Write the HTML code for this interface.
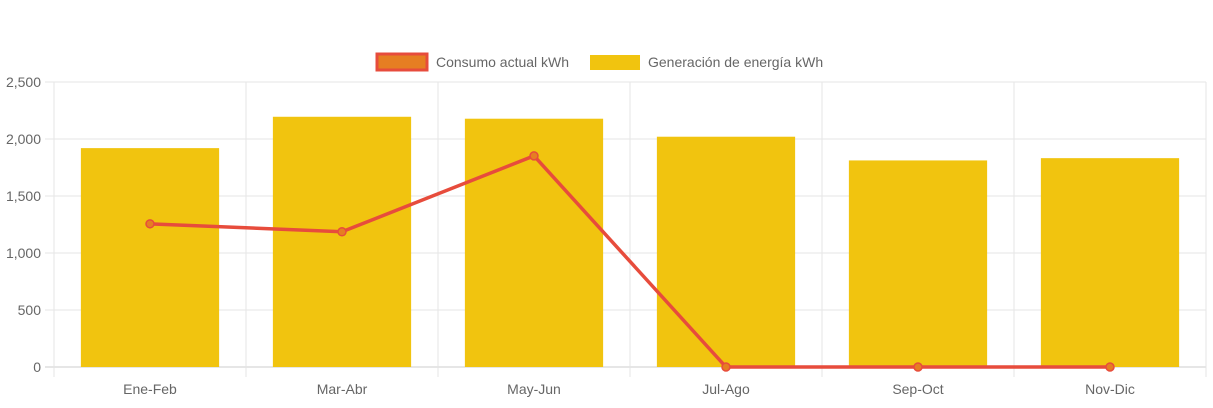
<!DOCTYPE html>
<html><head><meta charset="utf-8"><style>
body{margin:0;background:#fff;}
svg text{font-family:"Liberation Sans",Arial,sans-serif;fill:#666;font-size:14px;}
</style></head><body>
<svg id="c" width="1213" height="403"></svg>
<script>
const categories=["Ene-Feb","Mar-Abr","May-Jun","Jul-Ago","Sep-Oct","Nov-Dic"];
const generacion=[1920,2195,2178,2020,1812,1832];
const consumo=[1256,1186,1852,0,0,0];
const yTicks=[0,500,1000,1500,2000,2500];
const yTickLabels=["0","500","1,000","1,500","2,000","2,500"];
const L=54,R=1206,T=82,B=367,YMAX=2500;
const svg=document.getElementById('c');
const NS='http://www.w3.org/2000/svg';
const cw=(R-L)/categories.length;
const x=i=>L+cw*(i+0.5);
const y=v=>B-(v/YMAX)*(B-T);
function mk(t,a){const e=document.createElementNS(NS,t);for(const k in a)e.setAttribute(k,a[k]);svg.appendChild(e);return e;}
// grid
yTicks.forEach((v,i)=>{
 const g=mk('line',{x1:45,x2:R,y1:y(v),y2:y(v),stroke:i==0?'#ccc':'#e5e5e5','stroke-width':1});
 
 
 const t=mk('text',{x:41,y:y(v)+5,'text-anchor':'end'});t.textContent=yTickLabels[i];
 
 
});
for(let i=0;i<=categories.length;i++){
 const g=mk('line',{x1:L+cw*i,x2:L+cw*i,y1:T,y2:377,stroke:'#e5e5e5','stroke-width':1});
 
 
}
const bw=cw*0.72;
generacion.forEach((v,i)=>{
 const r=mk('rect',{x:x(i)-bw/2,y:y(v),width:bw,height:B-y(v),fill:'#f1c40f'});
 
 
});
categories.forEach((c,i)=>{
 const t=mk('text',{x:x(i),y:394,'text-anchor':'middle'});t.textContent=c;
 
 
});
const pl=mk('polyline',{points:consumo.map((v,i)=>x(i)+','+y(v)).join(' '),fill:'none',stroke:'#e74c3c','stroke-width':3.5});


consumo.forEach((v,i)=>{
 const p=mk('circle',{cx:x(i),cy:y(v),r:4,fill:'#e67e22',stroke:'#e74c3c','stroke-width':1.5});
 
 
});
// legend
const l1=mk('rect',{x:377,y:54,width:50,height:16,fill:'#e67e22',stroke:'#e74c3c','stroke-width':3});


const t1=mk('text',{x:436,y:67});t1.textContent='Consumo actual kWh';


const l2=mk('rect',{x:590,y:55,width:50,height:15,fill:'#f1c40f'});


const t2=mk('text',{x:648,y:67});t2.textContent='Generación de energía kWh';


</script>
</body></html>
